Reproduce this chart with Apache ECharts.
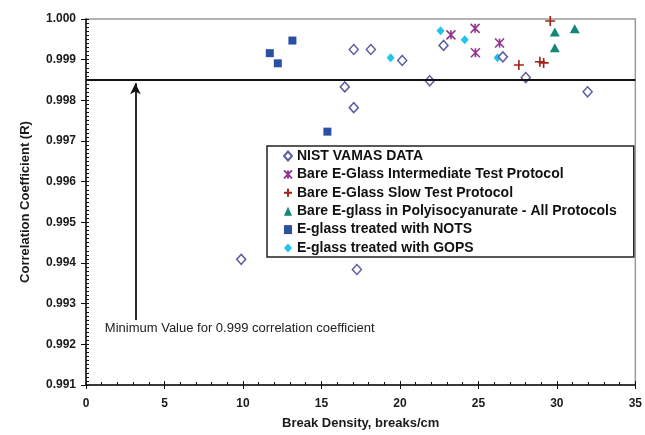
<!DOCTYPE html>
<html><head><meta charset="utf-8">
<script src="https://cdn.jsdelivr.net/npm/echarts@6/dist/echarts.min.js"></script>
<style>html,body{margin:0;padding:0;background:#fff}#c{width:645px;height:435px}</style>
</head><body><div id="c"></div>
<script>
const seriesNames = [
  'NIST VAMAS DATA',
  'Bare E-Glass Intermediate Test Protocol',
  'Bare E-Glass Slow Test Protocol',
  'Bare E-glass in Polyisocyanurate - All Protocols',
  'E-glass treated with NOTS',
  'E-glass treated with GOPS'
];
const nistData = [
  [17.06,0.99925],[18.15,0.99925],[20.15,0.99898],[16.49,0.99833],[17.06,0.99782],
  [21.9,0.99848],[22.78,0.99935],[26.56,0.99907],[28.02,0.99856],[31.96,0.99821],
  [9.89,0.99409],[17.26,0.99384]
];
const intermediateData = [[23.25,0.99961],[24.79,0.99977],[24.81,0.99917],[26.35,0.99941]];
const slowData = [[29.58,0.99995],[27.58,0.99887],[28.92,0.99895],[29.16,0.99892]];
const polyData = [[29.87,0.99968],[29.87,0.99929],[31.14,0.99976]];
const notsData = [[11.71,0.99916],[12.22,0.99891],[13.15,0.99947],[15.38,0.99723]];
const gopsData = [[19.41,0.99905],[22.59,0.99971],[24.13,0.99949],[26.22,0.99905]];
const thresholdValue = 0.9985;
const arrowX = 3.15, arrowFrom = 0.9926, arrowTo = 0.99842;
const noteText = 'Minimum Value for 0.999 correlation coefficient';
const notePos = [1.2, 0.99238];
const xTicks = {min:0, max:35, interval:5};
const yTicks = {min:0.991, max:1.000, interval:0.001};

const FONT = 'Liberation Sans';
const chart = echarts.init(document.getElementById('c'), null, {renderer:'canvas'});
const lblStyle = {color:'#1a1a1a', fontFamily:FONT, fontWeight:'bold', fontSize:12};
const starPath = 'path://M0,0L10,10M10,0L0,10M5,0L5,10';
const plusPath = 'path://M5,0L5,10M0,5L10,5';

chart.setOption({
  animation:false,
  backgroundColor:'#fff',
  grid:{left:86, right:6, top:19, bottom:46, show:true, borderColor:'#9a9a9a', borderWidth:1.5, backgroundColor:'transparent'},
  legend:{
    orient:'vertical', left:267, top:146,
    padding:[3,17,2,16], itemGap:4.4, itemWidth:8, itemHeight:9, itemTextGap:3,
    borderColor:'#222', borderWidth:1.5, backgroundColor:'#fff',
    textStyle:{color:'#111', fontFamily:FONT, fontWeight:'bold', fontSize:14},
    data:seriesNames.map(n=>({name:n}))
  },
  xAxis:[{
    type:'value', min:xTicks.min, max:xTicks.max, interval:xTicks.interval,
    name:'Break Density, breaks/cm', nameLocation:'middle', nameGap:32,
    nameTextStyle:{color:'#1a1a1a', fontFamily:FONT, fontWeight:'bold', fontSize:13},
    axisLine:{lineStyle:{color:'#111', width:1.5}},
    axisTick:{show:true, length:4, lineStyle:{color:'#111'}},
    axisLabel:Object.assign({margin:13}, lblStyle),
    splitLine:{show:false}
  },{
    type:'value', min:xTicks.min, max:xTicks.max, interval:xTicks.interval, position:'bottom',
    axisLine:{show:false}, axisLabel:{show:false}, splitLine:{show:false},
    axisTick:{show:true, inside:true, length:4, lineStyle:{color:'#111'}},
    minorTick:{show:true, splitNumber:5, length:3, lineStyle:{color:'#111'}}
  }],
  yAxis:[{
    type:'value', min:yTicks.min, max:yTicks.max, interval:yTicks.interval,
    name:'Correlation Coefficient (R)', nameLocation:'middle', nameGap:54, nameRotate:90,
    nameTextStyle:{color:'#1a1a1a', fontFamily:FONT, fontWeight:'bold', fontSize:13},
    axisLine:{show:true, lineStyle:{color:'#111', width:1.5}},
    axisTick:{show:true, length:5, lineStyle:{color:'#111'}},
    axisLabel:Object.assign({margin:10, formatter:v=>v.toFixed(3)}, lblStyle),
    splitLine:{show:false}
  },{
    type:'value', min:yTicks.min, max:yTicks.max, interval:yTicks.interval, position:'left',
    axisLine:{show:false}, axisLabel:{show:false}, splitLine:{show:false},
    axisTick:{show:true, inside:true, length:3, lineStyle:{color:'#111'}},
    minorTick:{show:true, splitNumber:10, length:3, lineStyle:{color:'#111'}}
  }],
  series:[
    {name:seriesNames[0], type:'scatter', data:nistData, symbol:'diamond', symbolSize:[9,10],
     itemStyle:{color:'#fff', borderColor:'#5c5ca0', borderWidth:1.5, opacity:1}, z:3,
     markLine:{silent:true, animation:false, label:{show:false},
       data:[
         [{xAxis:xTicks.min, yAxis:thresholdValue, symbol:'none'},{xAxis:xTicks.max, yAxis:thresholdValue, symbol:'none'}],
         [{coord:[arrowX, arrowFrom], symbol:'none'},{coord:[arrowX, arrowTo], symbol:'arrow', symbolSize:[8,11]}]
       ],
       lineStyle:{color:'#111', width:1.8, type:'solid'}},
     markPoint:{silent:true, symbol:'circle', symbolSize:0,
       data:[{coord:notePos, label:{show:true, position:'right', distance:0, formatter:noteText,
         color:'#222', fontFamily:FONT, fontSize:13}}]}
    },
    {name:seriesNames[1], type:'scatter', data:intermediateData, symbol:starPath, symbolSize:9,
     itemStyle:{color:'#93358f', borderColor:'#93358f', borderWidth:1.6, opacity:1}},
    {name:seriesNames[2], type:'scatter', data:slowData, symbol:plusPath, symbolSize:10,
     itemStyle:{color:'#9e2318', borderColor:'#9e2318', borderWidth:1.6, opacity:1}},
    {name:seriesNames[3], type:'scatter', data:polyData, symbol:'triangle', symbolSize:[10,9],
     itemStyle:{color:'#14867a', opacity:1}},
    {name:seriesNames[4], type:'scatter', data:notsData, symbol:'rect', symbolSize:8,
     itemStyle:{color:'#2a50a0', opacity:1}},
    {name:seriesNames[5], type:'scatter', data:gopsData, symbol:'diamond', symbolSize:[8,9],
     itemStyle:{color:'#1fc2f0', opacity:1}}
  ]
});
</script></body></html>
